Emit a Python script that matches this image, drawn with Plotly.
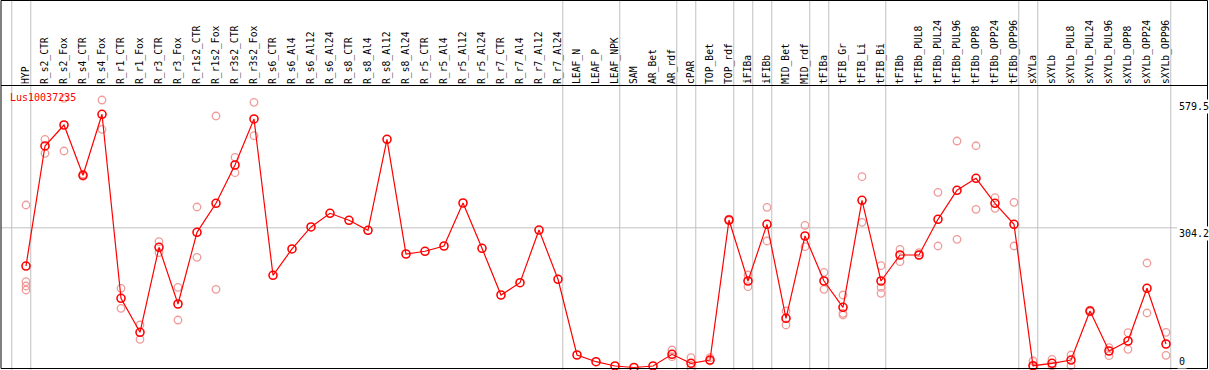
import plotly.graph_objects as go

gene_name = "Lus10037235"

categories = [
    "HYP", "R_s2_CTR", "R_s2_Fox", "R_s4_CTR", "R_s4_Fox", "R_r1_CTR", "R_r1_Fox",
    "R_r3_CTR", "R_r3_Fox", "R_r1s2_CTR", "R_r1s2_Fox", "R_r3s2_CTR", "R_r3s2_Fox",
    "R_s6_CTR", "R_s6_Al4", "R_s6_Al12", "R_s6_Al24", "R_s8_CTR", "R_s8_Al4",
    "R_s8_Al12", "R_s8_Al24", "R_r5_CTR", "R_r5_Al4", "R_r5_Al12", "R_r5_Al24",
    "R_r7_CTR", "R_r7_Al4", "R_r7_Al12", "R_r7_Al24", "LEAF_N", "LEAF_P", "LEAF_NPK",
    "SAM", "AR_Bet", "AR_rdf", "cPAR", "TOP_Bet", "TOP_rdf", "iFIBa", "iFIBb",
    "MID_Bet", "MID_rdf", "tFIBa", "tFIB_Gr", "tFIB_Li", "tFIB_Bi", "tFIBb",
    "tFIBb_PUL8", "tFIBb_PUL24", "tFIBb_PUL96", "tFIBb_OPP8", "tFIBb_OPP24",
    "tFIBb_OPP96", "sXYLa", "sXYLb", "sXYLb_PUL8", "sXYLb_PUL24", "sXYLb_PUL96",
    "sXYLb_OPP8", "sXYLb_OPP24", "sXYLb_OPP96",
]

mean_values = [
    221.0, 482.4, 528.1, 418.6, 551.4, 150.7, 76.7,
    261.8, 138.3, 294.4, 357.6, 441.0, 541.2,
    200.8, 258.1, 306.0, 335.8, 320.6, 298.8,
    496.9, 247.2, 253.1, 264.6, 358.2, 259.6,
    157.9, 184.7, 299.4, 192.1, 27.2, 12.6, 3.3,
    0.0, 3.3, 28.7, 9.1, 16.3, 321.2, 188.4, 311.8,
    107.1, 286.4, 188.4, 131.1, 364.1, 188.4, 245.0,
    245.0, 322.7, 385.9, 412.0, 357.6,
    311.8, 3.9, 9.1, 16.3, 123.0, 35.9,
    57.7, 172.5, 51.2,
]

replicate_values = [
    [353.9, 186.8, 177.5, 168.8], [496.9, 466.5], [586.2, 471.5], [416.0, 421.0],
    [582.5, 518.7], [172.5, 128.9], [92.6, 61.4],
    [274.0, 250.0], [174.7, 103.4], [349.5, 240.0], [547.7, 170.3], [457.7, 424.2],
    [577.5, 504.8],
    [], [], [], [], [], [],
    [], [], [], [], [], [],
    [], [], [], [], [], [], [],
    [], [], [38.1, 23.5], [21.3, 0.0], [21.3, 14.2], [320.0, 323.0],
    [201.4, 176.0], [348.9, 275.5],
    [123.0, 92.6], [309.7, 263.1], [207.3, 170.3], [157.9, 118.0, 114.3],
    [415.5, 316.2], [221.7, 174.7, 161.6], [257.4, 230.4],
    [250.0, 245.0], [381.5, 264.6], [493.2, 279.2], [482.9, 344.5], [369.8, 346.7],
    [359.7, 264.6], [14.2, 1.7], [17.9, 3.3], [27.2, 3.9], [121.0, 125.0],
    [43.1, 25.7],
    [75.8, 39.6], [227.6, 118.7], [76.7, 26.6],
]

y_tick_values = [0, 304.2, 579.5]
y_tick_text = ["0", "304.2", "579.5"]

separator_after = [
    "HYP", "R_r7_Al24", "LEAF_NPK", "AR_rdf", "cPAR", "TOP_rdf", "iFIBa", "iFIBb",
    "MID_rdf", "tFIBa", "tFIB_Bi", "tFIBb_OPP96", "sXYLa", "sXYLb_OPP96",
]

# ---- geometry ----
W, H = 1209, 370
x0_px, step_px = 26.0, 19.0
zero_px, px_per_unit, plot_top_px = 367.5, 0.4592, 85.0
x_range = [-x0_px / step_px, (W - x0_px) / step_px]
y_range = [-(H - zero_px) / px_per_unit, (zero_px - plot_top_px) / px_per_unit]

idx = list(range(len(categories)))
MONO = "DejaVu Sans Mono"

rep_x, rep_y = [], []
for i, reps in enumerate(replicate_values):
    for v in reps:
        rep_x.append(i)
        rep_y.append(v)

fig = go.Figure()
fig.add_trace(go.Scatter(
    x=rep_x, y=rep_y, mode="markers",
    marker=dict(symbol="circle-open", size=7.5, color="#F09A9A", line=dict(width=1.3, color="#F09A9A")),
    cliponaxis=False, showlegend=False, hoverinfo="skip",
))
fig.add_trace(go.Scatter(
    x=idx, y=mean_values, mode="lines+markers",
    line=dict(color="#FF0000", width=1.2),
    marker=dict(symbol="circle-open", size=8, color="#FF0000", line=dict(width=1.6, color="#FF0000")),
    cliponaxis=False, showlegend=False,
))

shapes = []
sep_positions = [-0.75] + [categories.index(c) + 0.25 for c in separator_after]
for s in sep_positions:
    shapes.append(dict(type="line", xref="x", yref="paper", x0=s, x1=s, y0=0, y1=1,
                       line=dict(color="#C0C0C0", width=1), layer="below"))
# horizontal gray reference line at middle tick
shapes.append(dict(type="line", xref="paper", yref="y", x0=1 / W, x1=1177 / W,
                   y0=y_tick_values[1], y1=y_tick_values[1],
                   line=dict(color="#C0C0C0", width=1), layer="below"))
# black separator under labels
shapes.append(dict(type="line", xref="paper", yref="paper", x0=1 / W, x1=1207.5 / W,
                   y0=(H - 85.5) / H, y1=(H - 85.5) / H, line=dict(color="black", width=1)))
# outer frame
shapes.append(dict(type="rect", xref="paper", yref="paper", x0=1 / W, x1=1207.5 / W,
                   y0=1.5 / H, y1=(H - 0.5) / H, line=dict(color="black", width=1),
                   fillcolor="rgba(0,0,0,0)"))

annotations = [dict(text=gene_name, xref="paper", yref="paper", x=8 / W, y=(H - 97) / H,
                    xanchor="left", yanchor="middle", showarrow=False,
                    font=dict(family=MONO, size=10, color="#FF0000"))]
y_shifts = [6, 2, 2]
y_anchors = ["middle", "top", "top"]
for v, t, sh, ya in zip(y_tick_values, y_tick_text, y_shifts, y_anchors):
    annotations.append(dict(text=t, xref="paper", yref="y", x=1177 / W, y=v,
                            xanchor="left", yanchor=ya, yshift=sh, showarrow=False,
                            bgcolor="white",
                            font=dict(family=MONO, size=10, color="black")))

fig.update_layout(
    template="none",
    width=W, height=H,
    margin=dict(l=0, r=0, t=0, b=0, pad=0),
    paper_bgcolor="white", plot_bgcolor="white",
    showlegend=False,
    hovermode=False,
    shapes=shapes,
    annotations=annotations,
    xaxis=dict(domain=[0, 1], range=x_range, side="top", anchor="y",
               tickmode="array", tickvals=idx, ticktext=categories, tickangle=-90,
               ticks="", showgrid=False, zeroline=False, showline=False, automargin=False,
               tickfont=dict(family=MONO, size=9.7, color="black")),
    yaxis=dict(domain=[0, (H - plot_top_px) / H], range=y_range, showgrid=False,
               zeroline=False, showline=False, showticklabels=False, automargin=False),
)

fig.write_html("out.html", config={"displayModeBar": False, "staticPlot": True},
               post_script="document.body.style.margin='0';document.body.style.overflow='hidden';")
